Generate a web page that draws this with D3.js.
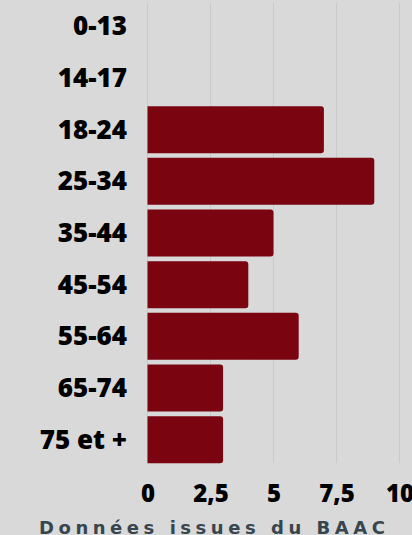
<!DOCTYPE html>
<html><head><meta charset="utf-8">
<script src="https://cdn.jsdelivr.net/npm/d3@7"></script>
<style>
html,body{margin:0;padding:0;background:#d9d9d9;overflow:hidden;}
svg{display:block;}
</style></head>
<body>
<svg id="chart" width="412" height="535"></svg>
<script>
const categories = ["0-13","14-17","18-24","25-34","35-44","45-54","55-64","65-74","75 et +"];
const values = [0,0,7,9,5,4,6,3,3];
const xTicks = [0,2.5,5,7.5,10];
const footerText = "Données issues du BAAC";

const W = 412, H = 535;
const svg = d3.select("#chart");
svg.append("rect").attr("width",W).attr("height",H).attr("fill","#d9d9d9");

const x = d3.scaleLinear().domain([0,10]).range([147.5,399.5]);
const y = d3.scaleBand().domain(categories).range([0.5,465.5]).paddingInner(0.09).paddingOuter(0.045);

// gridlines
svg.append("g").selectAll("line").data(xTicks).join("line")
  .attr("x1",d=>x(d)).attr("x2",d=>x(d))
  .attr("y1",3).attr("y2",463)
  .attr("stroke","#c9c9c9").attr("stroke-width",1);

// bars with rounded right corners
const r = 3;
function barPath(x0,x1,y0,h){
  const rr = Math.min(r,(x1-x0)/2);
  return `M${x0},${y0}H${x1-rr}Q${x1},${y0} ${x1},${y0+rr}V${y0+h-rr}Q${x1},${y0+h} ${x1-rr},${y0+h}H${x0}Z`;
}
svg.append("g").selectAll("path").data(categories.map((c,i)=>({c,v:values[i]})).filter(d=>d.v>0)).join("path")
  .attr("d",d=>barPath(x(0),x(d.v),y(d.c),y.bandwidth()))
  .attr("fill","#7a0510");

// y axis labels
const yAxis = d3.axisLeft(y).tickSize(0).tickPadding(0);
const gy = svg.append("g").attr("transform","translate(127,0)").call(yAxis);
gy.select(".domain").remove();
gy.selectAll("text").attr("font-family","'Open Sans', sans-serif").attr("font-weight",800)
  .attr("font-size",26).attr("fill","#000").attr("dy","0.35em");

// x axis labels
const fmt = d => String(d).replace(".",",");
const xAxis = d3.axisBottom(x).tickValues(xTicks).tickFormat(fmt).tickSize(0).tickPadding(0);
const gx = svg.append("g").attr("transform","translate(0,493.5)").call(xAxis);
gx.select(".domain").remove();
gx.selectAll("text").attr("font-family","'Open Sans', sans-serif").attr("font-weight",800)
  .attr("font-size",24).attr("fill","#000").attr("dy","0.35em");

// footer
const ft = svg.append("text").attr("x",212).attr("y",533.5).attr("text-anchor","middle")
  .attr("font-family","'DejaVu Sans', sans-serif").attr("font-weight",700).attr("font-size",18)
  .attr("fill","#37464e").text(footerText);
const len0 = ft.node().getComputedTextLength();
const ls = (346 - len0)/(footerText.length-1);
ft.style("letter-spacing", ls+"px").attr("x",212+ls/2);
</script>
</body></html>
